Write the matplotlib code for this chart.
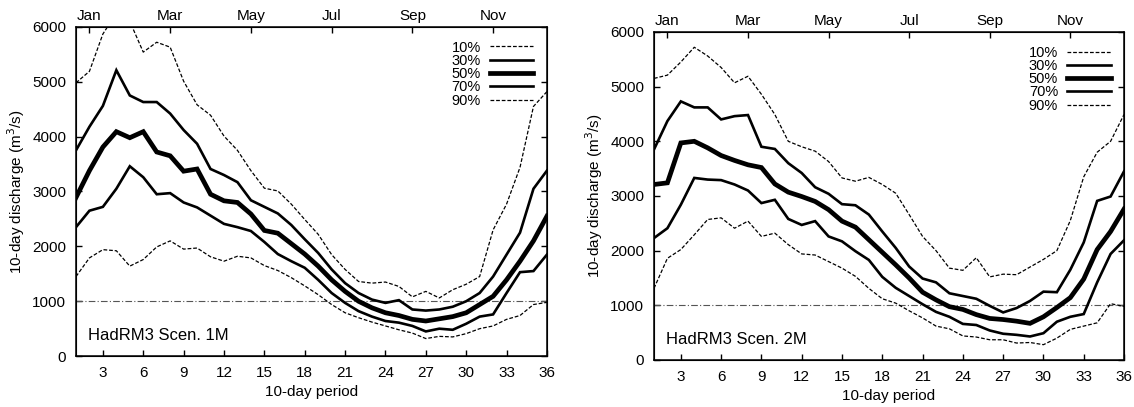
import matplotlib
matplotlib.use('Agg')
import matplotlib.pyplot as plt

plt.rcParams['font.family'] = ['Liberation Sans', 'DejaVu Sans']

periods = list(range(1, 37))
months = ['Jan', 'Mar', 'May', 'Jul', 'Sep', 'Nov']
month_pos = [2, 8, 14, 20, 26, 32]
threshold = 1000

# HadRM3 scenario 1M, percentiles of 10-day discharge
s1_p10 = [4980, 5190, 5870, 6250, 6100, 5540, 5720, 5630, 5010, 4580, 4390, 4010,
          3750, 3380, 3060, 3010, 2770, 2490, 2220, 1850, 1580, 1360, 1330, 1350,
          1270, 1080, 1180, 1060, 1210, 1310, 1450, 2300, 2770, 3440, 4550, 4820]
s1_p30 = [3750, 4180, 4560, 5210, 4750, 4630, 4630, 4420, 4120, 3870, 3410, 3300,
          3170, 2840, 2720, 2600, 2390, 2130, 1880, 1580, 1330, 1150, 1030, 970,
          1020, 850, 830, 850, 900, 1000, 1150, 1450, 1850, 2250, 3050, 3380]
s1_p50 = [2890, 3380, 3810, 4090, 3980, 4090, 3720, 3650, 3370, 3410, 2950, 2830,
          2800, 2590, 2290, 2240, 2050, 1860, 1640, 1390, 1180, 1000, 880, 790,
          740, 670, 640, 680, 720, 790, 940, 1090, 1390, 1730, 2100, 2550]
s1_p70 = [2350, 2650, 2720, 3050, 3460, 3260, 2950, 2970, 2800, 2710, 2560, 2410,
          2350, 2280, 2080, 1860, 1730, 1610, 1390, 1150, 970, 820, 720, 640,
          610, 550, 450, 500, 480, 590, 720, 760, 1150, 1530, 1550, 1850]
s1_p90 = [1450, 1790, 1940, 1920, 1640, 1760, 1990, 2100, 1950, 1970, 1810, 1730,
          1820, 1790, 1650, 1560, 1430, 1280, 1120, 940, 790, 700, 620, 550,
          480, 420, 320, 360, 350, 410, 500, 550, 670, 740, 940, 980]

# HadRM3 scenario 2M
s2_p10 = [5150, 5210, 5450, 5720, 5560, 5350, 5070, 5190, 4860, 4490, 4000, 3900,
          3820, 3630, 3330, 3270, 3340, 3210, 3050, 2660, 2260, 2000, 1680, 1640,
          1870, 1520, 1570, 1560, 1700, 1840, 2000, 2550, 3350, 3800, 4000, 4490]
s2_p30 = [3850, 4370, 4730, 4620, 4620, 4400, 4460, 4480, 3900, 3860, 3600, 3420,
          3160, 3040, 2850, 2830, 2660, 2350, 2050, 1710, 1490, 1420, 1220, 1170,
          1120, 990, 870, 950, 1080, 1250, 1240, 1650, 2150, 2910, 2990, 3450]
s2_p50 = [3210, 3240, 3970, 4000, 3880, 3740, 3650, 3570, 3520, 3220, 3070, 2990,
          2900, 2750, 2540, 2430, 2200, 1970, 1740, 1500, 1240, 1100, 975, 925,
          830, 760, 740, 710, 670, 790, 960, 1140, 1480, 2020, 2350, 2760]
s2_p70 = [2230, 2410, 2840, 3330, 3300, 3290, 3210, 3100, 2870, 2930, 2580, 2470,
          2540, 2260, 2170, 1990, 1830, 1520, 1320, 1170, 1020, 880, 790, 660,
          640, 540, 480, 460, 430, 490, 700, 790, 840, 1420, 1940, 2190]
s2_p90 = [1310, 1860, 2020, 2290, 2570, 2600, 2410, 2540, 2260, 2320, 2110, 1940,
          1920, 1800, 1680, 1530, 1310, 1120, 1040, 900, 770, 620, 570, 440,
          420, 370, 370, 310, 320, 280, 400, 560, 620, 680, 1030, 980]

labels = ['10%', '30%', '50%', '70%', '90%']
styles = [dict(lw=0.9, ls=(0, (3, 1.5))),
          dict(lw=1.9, ls='-'),
          dict(lw=3.4, ls='-'),
          dict(lw=1.9, ls='-'),
          dict(lw=0.9, ls=(0, (3, 1.5)))]


def draw_panel(ax, series, title):
    ax.axhline(threshold, color='#555555', lw=0.8, ls=(0, (6, 2, 1, 2)))
    for vals, lab, st in zip(series, labels, styles):
        ax.plot(periods, vals, color='black', label=lab, solid_joinstyle='miter', **st)
    ax.set_xlim(1, 36)
    ax.set_ylim(0, 6000)
    ax.set_xticks(range(3, 37, 3))
    ax.set_yticks(range(0, 6001, 1000))
    ax.tick_params(direction='in', length=4, width=1, top=True, right=True,
                   labelsize=11, pad=7)
    for s in ax.spines.values():
        s.set_linewidth(1.1)
    ax.set_xlabel('10-day period', fontsize=11)
    ax.set_ylabel('10-day discharge (m$^3$/s)', fontsize=11)
    ax.text(0.025, 0.05, title, transform=ax.transAxes, fontsize=12)
    top = ax.twiny()
    top.set_xlim(1, 36)
    top.set_xticks(month_pos)
    top.set_xticklabels(months)
    top.tick_params(direction='in', length=4, width=1, labelsize=11, pad=3)
    leg = ax.legend(loc='upper right', bbox_to_anchor=(0.99, 0.985), frameon=False,
                    markerfirst=False, fontsize=10.5, handlelength=3.0,
                    labelspacing=-0.05, handletextpad=0.6, borderaxespad=0.2)
    for t in leg.get_texts():
        t.set_ha('right')


fig = plt.figure(figsize=(11.34, 4.07), dpi=100)
ax1 = fig.add_axes([0.067, 0.125, 0.4153, 0.809])
ax2 = fig.add_axes([0.5767, 0.1155, 0.4145, 0.806])

draw_panel(ax1, [s1_p10, s1_p30, s1_p50, s1_p70, s1_p90], 'HadRM3 Scen. 1M')
draw_panel(ax2, [s2_p10, s2_p30, s2_p50, s2_p70, s2_p90], 'HadRM3 Scen. 2M')

fig.savefig('out.png', dpi=100)
